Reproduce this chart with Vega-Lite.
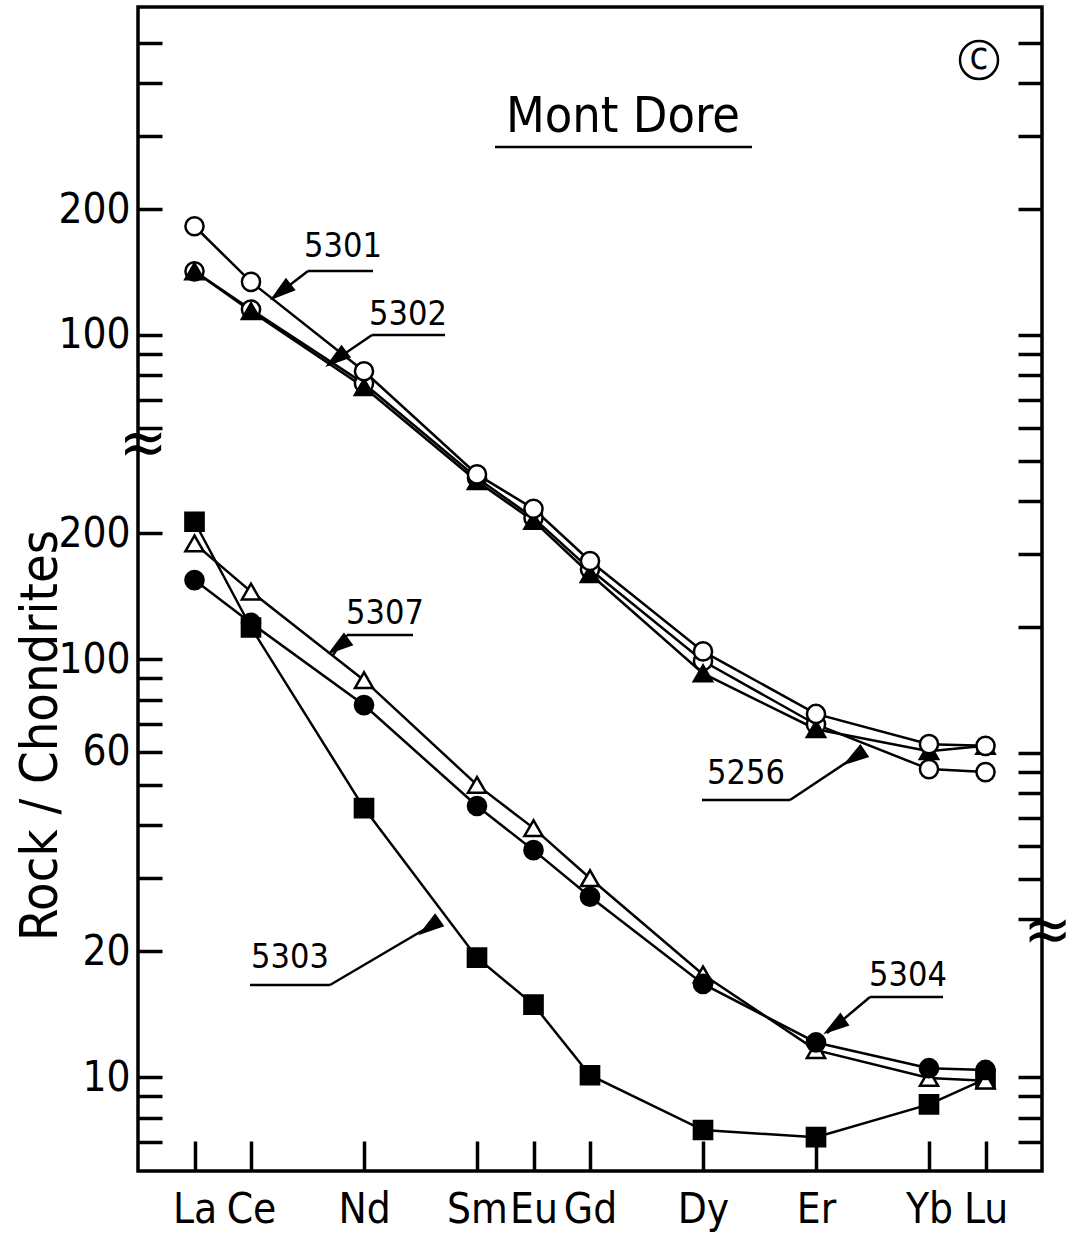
{
  "$schema": "https://vega.github.io/schema/vega-lite/v6.json",
  "width": 904,
  "height": 1164,
  "autosize": {"type": "none"},
  "padding": {"left": 138, "top": 7, "right": 32, "bottom": 71},
  "background": "white",
  "config": {
    "font": "DejaVu Sans Condensed, DejaVu Sans, sans-serif",
    "view": {"stroke": "black", "strokeWidth": 3.5},
    "axis": {"domain": false, "grid": false, "tickColor": "black", "tickWidth": 3.5, "labelColor": "black", "titleColor": "black"}
  },
  "datasets": {
    "lower": [
      {"sample": "5303", "el": "La", "z": 57, "v": 213},
      {"sample": "5303", "el": "Ce", "z": 58, "v": 119},
      {"sample": "5303", "el": "Nd", "z": 60, "v": 44.0},
      {"sample": "5303", "el": "Sm", "z": 62, "v": 19.3},
      {"sample": "5303", "el": "Eu", "z": 63, "v": 14.9},
      {"sample": "5303", "el": "Gd", "z": 64, "v": 10.1},
      {"sample": "5303", "el": "Dy", "z": 66, "v": 7.47},
      {"sample": "5303", "el": "Er", "z": 68, "v": 7.18},
      {"sample": "5303", "el": "Yb", "z": 70, "v": 8.6},
      {"sample": "5303", "el": "Lu", "z": 71, "v": 9.9},
      {"sample": "5307", "el": "La", "z": 57, "v": 189},
      {"sample": "5307", "el": "Ce", "z": 58, "v": 145},
      {"sample": "5307", "el": "Nd", "z": 60, "v": 89},
      {"sample": "5307", "el": "Sm", "z": 62, "v": 50},
      {"sample": "5307", "el": "Eu", "z": 63, "v": 39.4},
      {"sample": "5307", "el": "Gd", "z": 64, "v": 29.9},
      {"sample": "5307", "el": "Dy", "z": 66, "v": 17.6},
      {"sample": "5307", "el": "Er", "z": 68, "v": 11.6},
      {"sample": "5307", "el": "Yb", "z": 70, "v": 9.95},
      {"sample": "5307", "el": "Lu", "z": 71, "v": 9.8},
      {"sample": "5304", "el": "La", "z": 57, "v": 154.5},
      {"sample": "5304", "el": "Ce", "z": 58, "v": 122},
      {"sample": "5304", "el": "Nd", "z": 60, "v": 77.6},
      {"sample": "5304", "el": "Sm", "z": 62, "v": 44.5},
      {"sample": "5304", "el": "Eu", "z": 63, "v": 34.9},
      {"sample": "5304", "el": "Gd", "z": 64, "v": 27},
      {"sample": "5304", "el": "Dy", "z": 66, "v": 16.7},
      {"sample": "5304", "el": "Er", "z": 68, "v": 12.1},
      {"sample": "5304", "el": "Yb", "z": 70, "v": 10.5},
      {"sample": "5304", "el": "Lu", "z": 71, "v": 10.4}
    ],
    "upper": [
      {"sample": "5256", "el": "La", "z": 57, "v": 142},
      {"sample": "5256", "el": "Ce", "z": 58, "v": 115},
      {"sample": "5256", "el": "Nd", "z": 60, "v": 76.5},
      {"sample": "5256", "el": "Sm", "z": 62, "v": 45.5},
      {"sample": "5256", "el": "Eu", "z": 63, "v": 36.5},
      {"sample": "5256", "el": "Gd", "z": 64, "v": 27.5},
      {"sample": "5256", "el": "Dy", "z": 66, "v": 16.6},
      {"sample": "5256", "el": "Er", "z": 68, "v": 11.7},
      {"sample": "5256", "el": "Yb", "z": 70, "v": 9.15},
      {"sample": "5256", "el": "Lu", "z": 71, "v": 9.0},
      {"sample": "5302", "el": "La", "z": 57, "v": 142},
      {"sample": "5302", "el": "Ce", "z": 58, "v": 114},
      {"sample": "5302", "el": "Nd", "z": 60, "v": 75},
      {"sample": "5302", "el": "Sm", "z": 62, "v": 44.7},
      {"sample": "5302", "el": "Eu", "z": 63, "v": 35.9},
      {"sample": "5302", "el": "Gd", "z": 64, "v": 26.8},
      {"sample": "5302", "el": "Dy", "z": 66, "v": 15.5},
      {"sample": "5302", "el": "Er", "z": 68, "v": 11.4},
      {"sample": "5302", "el": "Yb", "z": 70, "v": 10.1},
      {"sample": "5302", "el": "Lu", "z": 71, "v": 10.4},
      {"sample": "5301", "el": "La", "z": 57, "v": 182},
      {"sample": "5301", "el": "Ce", "z": 58, "v": 134},
      {"sample": "5301", "el": "Nd", "z": 60, "v": 81.9},
      {"sample": "5301", "el": "Sm", "z": 62, "v": 46.4},
      {"sample": "5301", "el": "Eu", "z": 63, "v": 38.4},
      {"sample": "5301", "el": "Gd", "z": 64, "v": 28.8},
      {"sample": "5301", "el": "Dy", "z": 66, "v": 17.5},
      {"sample": "5301", "el": "Er", "z": 68, "v": 12.4},
      {"sample": "5301", "el": "Yb", "z": 70, "v": 10.5},
      {"sample": "5301", "el": "Lu", "z": 71, "v": 10.4}
    ],
    "segs": [
      {"id": "u5301", "z": 59.009, "v": 847.6, "z2": 60.159, "v2": 847.6},
      {"id": "a5301", "z": 59.009, "v": 847.6, "z2": 58.389, "v2": 730.6},
      {"id": "u5302", "z": 60.142, "v": 595.7, "z2": 61.434, "v2": 595.7},
      {"id": "a5302", "z": 60.142, "v": 595.7, "z2": 59.363, "v2": 505.1},
      {"id": "u5307", "z": 59.699, "v": 114.1, "z2": 60.867, "v2": 114.1},
      {"id": "a5307", "z": 59.699, "v": 114.1, "z2": 59.451, "v2": 102.2},
      {"id": "u5303", "z": 57.982, "v": 16.6, "z2": 59.398, "v2": 16.6},
      {"id": "a5303", "z": 59.398, "v": 16.6, "z2": 61.292, "v2": 23.49},
      {"id": "u5304", "z": 68.956, "v": 15.54, "z2": 70.248, "v2": 15.54},
      {"id": "a5304", "z": 68.956, "v": 15.54, "z2": 68.195, "v2": 12.74},
      {"id": "u5256", "z": 65.982, "v": 45.99, "z2": 67.54, "v2": 45.99},
      {"id": "a5256", "z": 67.54, "v": 45.99, "z2": 68.814, "v2": 59.91},
      {"id": "title", "z": 62.319, "v": 1678, "z2": 66.867, "v2": 1678}
    ],
    "heads": [
      {"id": "5301", "z": 58.52, "v": 755},
      {"id": "5302", "z": 59.5, "v": 522},
      {"id": "5307", "z": 59.54, "v": 107.0},
      {"id": "5303", "z": 61.15, "v": 22.8},
      {"id": "5304", "z": 68.32, "v": 13.2},
      {"id": "5256", "z": 68.67, "v": 58.0}
    ],
    "notes": [
      {"kind": "label", "text": "5301", "z": 59.628, "v": 967.3},
      {"kind": "label", "text": "5302", "z": 60.779, "v": 665.3},
      {"kind": "label", "text": "5307", "z": 60.372, "v": 128.2},
      {"kind": "label", "text": "5303", "z": 58.69, "v": 19.26},
      {"kind": "label", "text": "5304", "z": 69.628, "v": 17.44},
      {"kind": "label", "text": "5256", "z": 66.761, "v": 53.08},
      {"kind": "title", "text": "Mont Dore", "z": 64.584, "v": 1980},
      {"kind": "mark", "text": "c", "z": 70.885, "v": 2710},
      {"kind": "break", "text": "≈", "z": 56.09, "v": 325},
      {"kind": "break", "text": "≈", "z": 72.1, "v": 22.2}
    ]
  },
  "layer": [
    {
      "data": {"name": "lower"},
      "mark": {"type": "line", "color": "black", "strokeWidth": 2.5},
      "encoding": {
        "x": {"field": "z", "type": "quantitative", "scale": {"domain": [56, 72], "nice": false, "zero": false},
          "axis": {"orient": "bottom", "values": [57, 58, 60, 62, 63, 64, 66, 68, 70, 71],
            "labelExpr": "datum.value == 57 ? 'La' : datum.value == 58 ? 'Ce' : datum.value == 60 ? 'Nd' : datum.value == 62 ? 'Sm' : datum.value == 63 ? 'Eu' : datum.value == 64 ? 'Gd' : datum.value == 66 ? 'Dy' : datum.value == 68 ? 'Er' : datum.value == 70 ? 'Yb' : 'Lu'",
            "ticks": false, "labelPadding": 18, "labelFontSize": 42, "labelOverlap": false, "labelFlush": false,
            "labelBound": false, "title": null}},
        "y": {"field": "v", "type": "quantitative", "scale": {"type": "log", "domain": [5.96, 3630], "nice": false},
          "axis": {"orient": "left", "values": [7, 8, 9, 10, 20, 30, 40, 50, 60, 70, 80, 90, 100, 200], "format": "d",
            "labelExpr": "indexof([10,20,60,100,200], datum.value) >= 0 ? datum.label : ''",
            "tickSize": -24, "labelPadding": 32, "labelFontSize": 42, "labelBaseline": "middle", "labelOverlap": false,
            "labelBound": false, "labelFlush": false,
            "title": "Rock / Chondrites", "titleFontSize": 52, "titleFontWeight": "normal", "titleX": -98, "titleY": 728,
            "titleAngle": 270, "titleAlign": "center", "titleBaseline": "middle"}},
        "detail": {"field": "sample"},
        "order": {"field": "z"}
      }
    },
    {
      "data": {"name": "upper"},
      "mark": {"type": "line", "color": "black", "strokeWidth": 2.5},
      "encoding": {
        "x": {"field": "z", "type": "quantitative", "scale": {"domain": [56, 72], "nice": false, "zero": false},
          "axis": {"orient": "bottom", "values": [57, 58, 60, 62, 63, 64, 66, 68, 70, 71], "labels": false, "tickSize": -30, "title": null}},
        "y": {"field": "v", "type": "quantitative", "scale": {"type": "log", "domain": [1.0, 609], "nice": false},
          "axis": {"orient": "left", "values": [60, 70, 80, 90, 100, 200, 300, 400, 500], "format": "d",
            "labelExpr": "indexof([100,200], datum.value) >= 0 ? datum.label : ''",
            "tickSize": -24, "labelPadding": 32, "labelFontSize": 42, "labelBaseline": "middle", "labelOverlap": false,
            "labelBound": false, "labelFlush": false, "title": null}},
        "detail": {"field": "sample"},
        "order": {"field": "z"}
      }
    },
    {
      "data": {"name": "lower"},
      "mark": {"type": "point", "size": 330, "stroke": "black", "strokeWidth": 2.5, "opacity": 1, "fillOpacity": 1},
      "encoding": {
        "x": {"field": "z", "type": "quantitative", "scale": {"domain": [56, 72], "nice": false, "zero": false}, "axis": null},
        "y": {"field": "v", "type": "quantitative", "scale": {"type": "log", "domain": [5.96, 3630], "nice": false},
          "axis": {"orient": "right", "values": [7, 8, 9, 10], "labels": false, "tickSize": -24, "title": null}},
        "shape": {"field": "sample", "type": "nominal", "scale": {"domain": ["5303", "5307", "5304", "5301", "5302", "5256"], "range": ["square", "triangle-up", "circle", "circle", "triangle-up", "circle"]}, "legend": null},
        "fill": {"field": "sample", "type": "nominal", "scale": {"domain": ["5303", "5307", "5304", "5301", "5302", "5256"], "range": ["black", "white", "black", "white", "black", "white"]}, "legend": null}
      }
    },
    {
      "data": {"name": "upper"},
      "mark": {"type": "point", "size": 330, "stroke": "black", "strokeWidth": 2.5, "opacity": 1, "fillOpacity": 1},
      "encoding": {
        "x": {"field": "z", "type": "quantitative", "scale": {"domain": [56, 72], "nice": false, "zero": false}, "axis": null},
        "y": {"field": "v", "type": "quantitative", "scale": {"type": "log", "domain": [1.0, 609], "nice": false},
          "axis": {"orient": "right", "values": [4, 5, 6, 7, 8, 9, 10, 20, 30, 40, 50, 60, 70, 80, 90, 100, 200, 300, 400, 500], "labels": false, "tickSize": -24, "title": null}},
        "shape": {"field": "sample", "type": "nominal", "scale": {"domain": ["5303", "5307", "5304", "5301", "5302", "5256"], "range": ["square", "triangle-up", "circle", "circle", "triangle-up", "circle"]}, "legend": null},
        "fill": {"field": "sample", "type": "nominal", "scale": {"domain": ["5303", "5307", "5304", "5301", "5302", "5256"], "range": ["black", "white", "black", "white", "black", "white"]}, "legend": null}
      }
    },
    {
      "data": {"name": "segs"},
      "mark": {"type": "rule", "color": "black", "strokeWidth": 2.5},
      "encoding": {
        "x": {"field": "z", "type": "quantitative", "scale": {"domain": [56, 72], "nice": false, "zero": false}, "axis": null},
        "x2": {"field": "z2"},
        "y": {"field": "v", "type": "quantitative", "scale": {"type": "log", "domain": [5.96, 3630], "nice": false}, "axis": null},
        "y2": {"field": "v2"}
      }
    },
    {
      "data": {"name": "heads"},
      "mark": {"type": "point", "shape": "M0,-1L0.6,1L-0.6,1Z", "size": 700, "filled": true, "color": "black", "opacity": 1},
      "encoding": {
        "x": {"field": "z", "type": "quantitative", "scale": {"domain": [56, 72], "nice": false, "zero": false}, "axis": null},
        "y": {"field": "v", "type": "quantitative", "scale": {"type": "log", "domain": [5.96, 3630], "nice": false}, "axis": null},
        "angle": {"field": "id", "type": "nominal", "scale": {"domain": ["5301", "5302", "5307", "5303", "5304", "5256"], "range": [232, 236, 215, 59.5, 230, 56]}, "legend": null}
      }
    },
    {
      "data": {"name": "notes"},
      "transform": [{"filter": "datum.kind == 'mark'"}],
      "mark": {"type": "point", "shape": "circle", "size": 1444, "stroke": "black", "strokeWidth": 2.5, "fill": "white", "opacity": 1},
      "encoding": {
        "x": {"field": "z", "type": "quantitative", "scale": {"domain": [56, 72], "nice": false, "zero": false}, "axis": null},
        "y": {"field": "v", "type": "quantitative", "scale": {"type": "log", "domain": [5.96, 3630], "nice": false}, "axis": null}
      }
    },
    {
      "data": {"name": "notes"},
      "transform": [{"filter": "datum.kind == 'label'"}],
      "mark": {"type": "text", "color": "black", "align": "center", "baseline": "middle", "fontSize": 34},
      "encoding": {
        "x": {"field": "z", "type": "quantitative", "scale": {"domain": [56, 72], "nice": false, "zero": false}, "axis": null},
        "y": {"field": "v", "type": "quantitative", "scale": {"type": "log", "domain": [5.96, 3630], "nice": false}, "axis": null},
        "text": {"field": "text"}
      }
    },
    {
      "data": {"name": "notes"},
      "transform": [{"filter": "datum.kind == 'title'"}],
      "mark": {"type": "text", "color": "black", "align": "center", "baseline": "middle", "fontSize": 50},
      "encoding": {
        "x": {"field": "z", "type": "quantitative", "scale": {"domain": [56, 72], "nice": false, "zero": false}, "axis": null},
        "y": {"field": "v", "type": "quantitative", "scale": {"type": "log", "domain": [5.96, 3630], "nice": false}, "axis": null},
        "text": {"field": "text"}
      }
    },
    {
      "data": {"name": "notes"},
      "transform": [{"filter": "datum.kind == 'mark'"}],
      "mark": {"type": "text", "color": "black", "align": "center", "baseline": "middle", "fontSize": 38, "dy": -2},
      "encoding": {
        "x": {"field": "z", "type": "quantitative", "scale": {"domain": [56, 72], "nice": false, "zero": false}, "axis": null},
        "y": {"field": "v", "type": "quantitative", "scale": {"type": "log", "domain": [5.96, 3630], "nice": false}, "axis": null},
        "text": {"field": "text"}
      }
    },
    {
      "data": {"name": "notes"},
      "transform": [{"filter": "datum.kind == 'break'"}],
      "mark": {"type": "text", "color": "black", "align": "center", "baseline": "middle", "fontSize": 64},
      "encoding": {
        "x": {"field": "z", "type": "quantitative", "scale": {"domain": [56, 72], "nice": false, "zero": false}, "axis": null},
        "y": {"field": "v", "type": "quantitative", "scale": {"type": "log", "domain": [5.96, 3630], "nice": false}, "axis": null},
        "text": {"field": "text"}
      }
    }
  ],
  "resolve": {"scale": {"y": "independent"}, "axis": {"x": "independent"}}
}
